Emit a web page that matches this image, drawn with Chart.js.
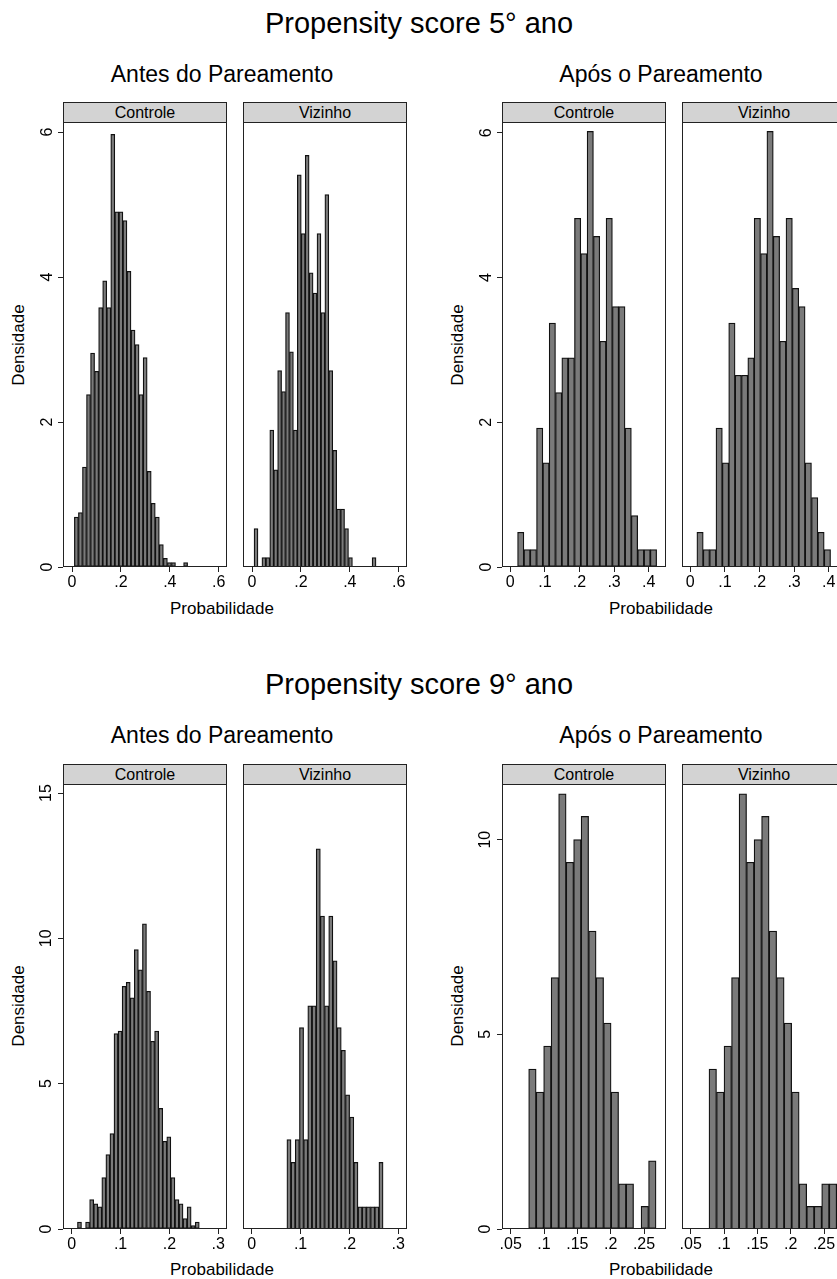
<!DOCTYPE html>
<html>
<head>
<meta charset="utf-8">
<script src="https://cdn.jsdelivr.net/npm/chart.js@4.4.0/dist/chart.umd.min.js"></script>
<style>
  html, body { margin: 0; padding: 0; background: #fff; }
  body { width: 837px; height: 1279px; overflow: hidden; position: relative;
         font-family: "Liberation Sans", Arial, sans-serif; color: #000; }
  .t { position: absolute; white-space: nowrap; transform: translateX(-50%); }
  .main { font-size: 29px; line-height: 29px; }
  .sub { font-size: 23px; line-height: 23px; }
  .axt { font-size: 17px; line-height: 17px; }
  .ylab { position: absolute; font-size: 17px; line-height: 17px; white-space: nowrap;
          transform: translate(-50%, -50%) rotate(-90deg); }
  .strip { position: absolute; height: 21px; box-sizing: border-box; border: 1px solid #222;
           background: #d3d3d3; font-size: 16px; line-height: 19px; text-align: center; }
  canvas { position: absolute; }
</style>
</head>
<body>
<div class="t main" style="left:419px;top:9px">Propensity score 5° ano</div>
<div class="t sub" style="left:222px;top:63px">Antes do Pareamento</div>
<div class="t sub" style="left:661px;top:63px">Após o Pareamento</div>
<div class="t axt" style="left:222px;top:600px">Probabilidade</div>
<div class="t axt" style="left:661px;top:600px">Probabilidade</div>
<div class="ylab" style="left:17.5px;top:344.5px">Densidade</div>
<div class="ylab" style="left:456.5px;top:344.5px">Densidade</div>

<div class="t main" style="left:419px;top:670px">Propensity score 9° ano</div>
<div class="t sub" style="left:222px;top:724px">Antes do Pareamento</div>
<div class="t sub" style="left:661px;top:724px">Após o Pareamento</div>
<div class="t axt" style="left:222px;top:1261px">Probabilidade</div>
<div class="t axt" style="left:661px;top:1261px">Probabilidade</div>
<div class="ylab" style="left:17.5px;top:1006px">Densidade</div>
<div class="ylab" style="left:456.5px;top:1006px">Densidade</div>

<script>
// densities per bin
const ctrl5Antes = [0.69, 0.75, 1.38, 2.38, 2.95, 2.70, 3.58, 3.95, 3.58, 5.97, 4.90, 4.90, 4.78, 4.08,
  3.27, 3.07, 2.38, 2.89, 1.32, 0.88, 0.69, 0.31, 0.12, 0.06, 0.06, 0, 0, 0.06];
const viz5Antes = [0.53, 0, 0.13, 0.13, 1.89, 1.34, 2.71, 2.42, 3.51, 2.97, 1.89, 5.41, 4.60, 5.68, 4.06,
  3.78, 4.60, 3.51, 5.14, 2.71, 1.61, 0.80, 0.80, 0.53, 0.13, 0, 0, 0, 0, 0, 0.13];
const ctrl5Apos = [0.48, 0.24, 0.24, 1.92, 1.44, 3.37, 2.41, 2.89, 2.89, 4.82, 4.33, 6.02, 4.57, 3.12,
  4.82, 3.60, 3.60, 1.92, 0.71, 0.24, 0.24, 0.24];
const viz5Apos = [0.48, 0.24, 0.24, 1.92, 1.44, 3.37, 2.65, 2.65, 2.89, 4.82, 4.33, 6.02, 4.57, 3.12,
  4.82, 3.85, 3.60, 1.44, 0.96, 0.48, 0.24];
const ctrl9Antes = [0.24, 0, 0.24, 1.01, 0.87, 0.76, 1.77, 2.56, 3.28, 6.72, 6.81, 8.35, 8.49, 7.95, 9.61,
  8.92, 10.50, 8.18, 6.46, 6.81, 4.15, 3.02, 3.17, 1.77, 1.01, 0.87, 0.36, 0.76, 0.12, 0.24];
const viz9Antes = [3.08, 2.29, 3.08, 6.93, 3.08, 7.68, 7.68, 13.08, 10.77, 7.68, 10.77, 9.23, 6.93, 6.15,
  4.62, 3.85, 2.29, 0.76, 0.76, 0.76, 0.76, 0.76, 2.29];
const ctrl9Apos = [4.11, 3.52, 4.70, 6.46, 11.18, 9.42, 10.0, 10.60, 7.65, 6.46, 5.29, 3.52, 1.16, 1.16,
  0, 0.58, 1.75];
const viz9Apos = [4.11, 3.52, 4.70, 6.46, 11.18, 9.42, 10.0, 10.60, 7.65, 6.46, 5.29, 3.52, 1.16, 0.58,
  0.58, 1.16, 1.16];

// histogram bins: first edge and width, same order as the panels below
const binStart = [0.0095, 0.0082, 0.021, 0.019, 0.0116, 0.0719, 0.077, 0.0775];
const binWidth = [0.01655, 0.0161, 0.01827, 0.0184, 0.00832, 0.00857, 0.01124, 0.01127];

// axis ticks
const xTicks5Antes = [0, 0.2, 0.4, 0.6];
const xLabels5Antes = ["0", ".2", ".4", ".6"];
const xTicks5Apos = [0, 0.1, 0.2, 0.3, 0.4];
const xLabels5Apos = ["0", ".1", ".2", ".3", ".4"];
const xTicks9Antes = [0, 0.1, 0.2, 0.3];
const xLabels9Antes = ["0", ".1", ".2", ".3"];
const xTicks9Apos = [0.05, 0.1, 0.15, 0.2, 0.25];
const xLabels9Apos = [".05", ".1", ".15", ".2", ".25"];
const yTicks5 = [0, 2, 4, 6];
const yTicks9Antes = [0, 5, 10, 15];
const yTicks9Apos = [0, 5, 10];

const FONT = '"Liberation Sans", Arial, sans-serif';
const PADT = 24, PADR = 12, YW = 40, XH = 30;

const panels = [
  { dens: ctrl5Antes, left: 63, top: 122, xr: [-0.037, 0.634], ymax: 6.14, xt: xTicks5Antes, xl: xLabels5Antes, yt: yTicks5, showY: true, ypad: 6 },
  { dens: viz5Antes, left: 243, top: 122, xr: [-0.037, 0.634], ymax: 6.14, xt: xTicks5Antes, xl: xLabels5Antes, yt: yTicks5, showY: false },
  { dens: ctrl5Apos, left: 502, top: 122, xr: [-0.024, 0.450], ymax: 6.15, xt: xTicks5Apos, xl: xLabels5Apos, yt: yTicks5, showY: true, ypad: 6 },
  { dens: viz5Apos, left: 682, top: 122, xr: [-0.024, 0.450], ymax: 6.15, xt: xTicks5Apos, xl: xLabels5Apos, yt: yTicks5, showY: false },
  { dens: ctrl9Antes, left: 63, top: 784, xr: [-0.018, 0.318], ymax: 15.31, xt: xTicks9Antes, xl: xLabels9Antes, yt: yTicks9Antes, showY: true, ypad: 2.8 },
  { dens: viz9Antes, left: 243, top: 784, xr: [-0.018, 0.318], ymax: 15.31, xt: xTicks9Antes, xl: xLabels9Antes, yt: yTicks9Antes, showY: false },
  { dens: ctrl9Apos, left: 502, top: 784, xr: [0.037, 0.283], ymax: 11.43, xt: xTicks9Apos, xl: xLabels9Apos, yt: yTicks9Apos, showY: true, ypad: 2.8 },
  { dens: viz9Apos, left: 682, top: 784, xr: [0.037, 0.283], ymax: 11.43, xt: xTicks9Apos, xl: xLabels9Apos, yt: yTicks9Apos, showY: false }
];
const stripNames = ["Controle", "Vizinho"];
const PW = 164, PH = 445;

const boxPlugin = {
  id: 'box',
  afterDraw(chart) {
    const { ctx, chartArea: a } = chart;
    ctx.save();
    ctx.strokeStyle = '#222';
    ctx.lineWidth = 1;
    ctx.strokeRect(Math.round(a.left) + 0.5, Math.round(a.top) + 0.5,
      Math.round(a.right - a.left) - 1, Math.round(a.bottom - a.top) - 1);
    ctx.restore();
  }
};

panels.forEach((p, k) => {
  // strip header
  const s = document.createElement('div');
  s.className = 'strip';
  s.style.left = p.left + 'px';
  s.style.top = (p.top - 20) + 'px';
  s.style.width = PW + 'px';
  s.textContent = stripNames[k % 2];
  document.body.appendChild(s);

  const c = document.createElement('canvas');
  c.width = YW + PW + PADR;
  c.height = PADT + PH + XH;
  c.style.left = (p.left - YW) + 'px';
  c.style.top = (p.top - PADT) + 'px';
  document.body.appendChild(c);

  const pts = p.dens.map((v, i) => ({ x: binStart[k] + (i + 0.5) * binWidth[k], y: v }));

  new Chart(c, {
    type: 'bar',
    data: {
      datasets: [{
        data: pts,
        backgroundColor: '#7a7a7a',
        borderColor: '#111',
        borderWidth: 1.25,
        borderSkipped: false,
        barPercentage: 1,
        categoryPercentage: 1
      }]
    },
    options: {
      responsive: false,
      animation: false,
      devicePixelRatio: 1,
      layout: { padding: { left: 0, top: PADT, right: PADR, bottom: 0 } },
      plugins: { legend: { display: false }, tooltip: { enabled: false } },
      scales: {
        x: {
          type: 'linear', min: p.xr[0], max: p.xr[1], offset: false, bounds: 'data',
          afterBuildTicks: sc => { sc.ticks = p.xt.map(v => ({ value: v })); },
          afterFit: sc => { sc.height = XH; },
          grid: { display: true, drawOnChartArea: false, tickLength: 5, color: '#222', offset: false },
          border: { display: false },
          ticks: { autoSkip: false, maxRotation: 0, padding: 1, color: '#000',
                   font: { family: FONT, size: 16 }, callback: (v, i) => p.xl[i] }
        },
        y: {
          min: 0, max: p.ymax,
          afterBuildTicks: sc => { sc.ticks = p.yt.map(v => ({ value: v })); },
          afterFit: sc => { sc.width = YW; },
          grid: { display: p.showY, drawOnChartArea: false, tickLength: 5, color: '#222' },
          border: { display: false },
          ticks: { display: p.showY, autoSkip: false, minRotation: 90, maxRotation: 90, crossAlign: 'center',
                   padding: p.ypad || 0, color: '#000', font: { family: FONT, size: 16 },
                   callback: v => String(v) }
        }
      }
    },
    plugins: [boxPlugin]
  });
});
</script>
</body>
</html>
